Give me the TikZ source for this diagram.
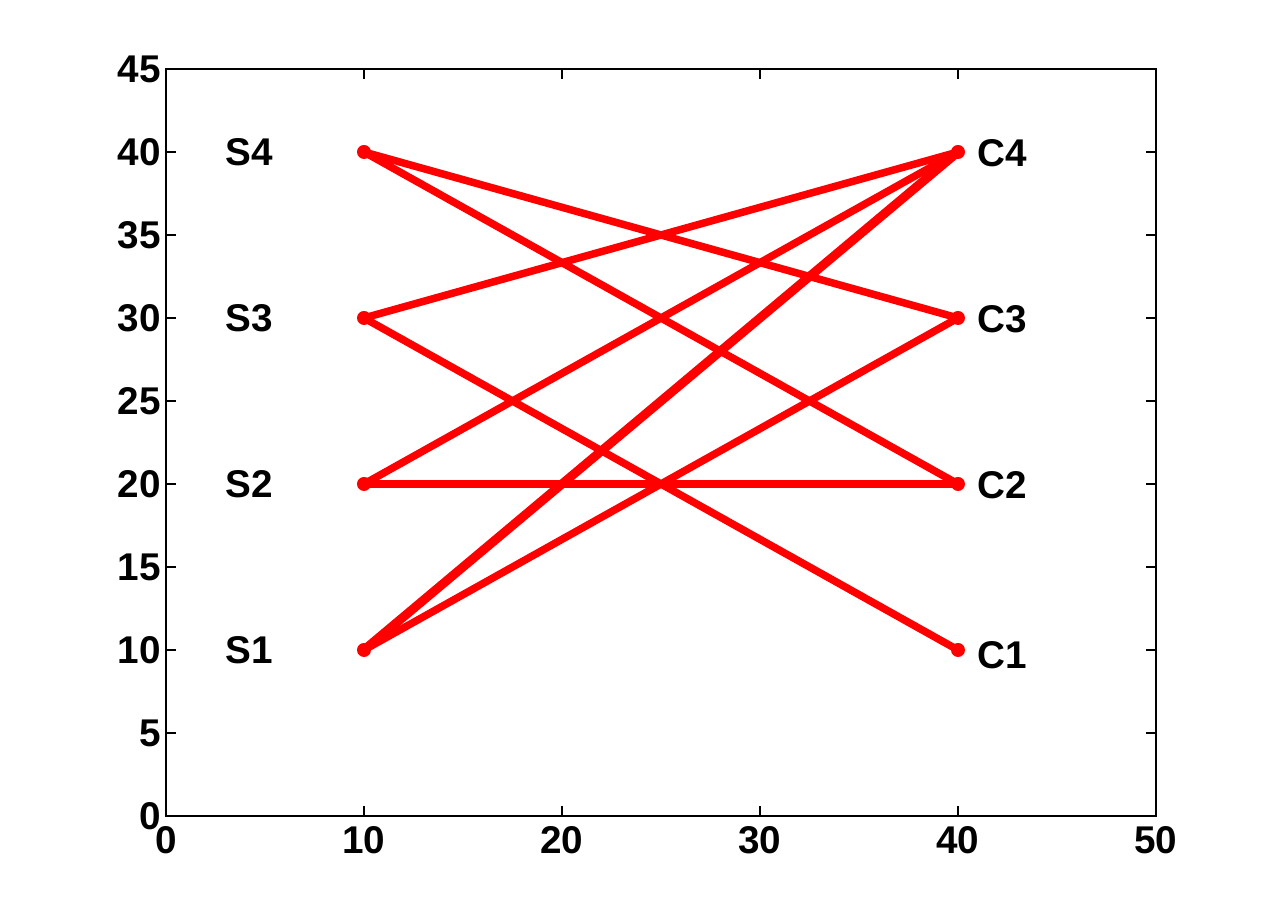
\documentclass[tikz,border=0pt]{standalone}
\usepackage{fontspec}
\setmainfont{Liberation Sans}
\begin{document}
\begin{tikzpicture}[
  dot/.style={circle,fill=red,inner sep=0pt,minimum size=0.28cm},
  edge/.style={draw=red,line width=0.15cm,line cap=round},
  lbl/.style={font=\fontsize{22}{24}\selectfont\bfseries,inner sep=0pt},
  ticklbl/.style={font=\fontsize{22}{24}\selectfont\bfseries,inner sep=0pt},
  axisline/.style={draw=black,line width=0.04cm}
]
\useasboundingbox[fill=white] (-3.32,-2.02) rectangle (22.22,16.32);
\begin{scope}[x=0.396cm,y=0.332cm]
  % axes box
  \draw[axisline] (0,0) rectangle (50,45);
  % ticks
  \foreach \x in {10,20,30,40} {
    \draw[axisline] (\x,0) -- ++(0,0.2cm);
    \draw[axisline] (\x,45) -- ++(0,-0.2cm);
  }
  \foreach \y in {5,10,...,40} {
    \draw[axisline] (0,\y) -- ++(0.2cm,0);
    \draw[axisline] (50,\y) -- ++(-0.2cm,0);
  }
  \foreach \x in {0,10,20,30,40,50}
    \node[ticklbl,anchor=north] (xt\x) at (\x,-0.6) {\x};
  \foreach \y in {0,5,10,...,45}
    \node[ticklbl,anchor=east] (yt\y) at (-0.25,\y) {\y};
  % points
  \node[dot] (S1) at (10,10) {};
  \node[dot] (S2) at (10,20) {};
  \node[dot] (S3) at (10,30) {};
  \node[dot] (S4) at (10,40) {};
  \node[dot] (C1) at (40,10) {};
  \node[dot] (C2) at (40,20) {};
  \node[dot] (C3) at (40,30) {};
  \node[dot] (C4) at (40,40) {};
  % edges
  \draw[edge] (S4.center) -- (C3.center);
  \draw[edge] (S4.center) -- (C2.center);
  \draw[edge] (S3.center) -- (C4.center);
  \draw[edge] (S3.center) -- (C1.center);
  \draw[edge] (S2.center) -- (C4.center);
  \draw[edge] (S2.center) -- (C2.center);
  \draw[edge,line width=0.18cm] (S1.center) -- (C4.center);
  \draw[edge] (S1.center) -- (C3.center);
  % labels
  \node[lbl,anchor=west] (LS1) at (3,10) {S1};
  \node[lbl,anchor=west] (LS2) at (3,20) {S2};
  \node[lbl,anchor=west] (LS3) at (3,30) {S3};
  \node[lbl,anchor=west] (LS4) at (3,40) {S4};
  \node[lbl,anchor=west] (LC1) at (40.95,9.7) {C1};
  \node[lbl,anchor=west] (LC2) at (40.95,19.9) {C2};
  \node[lbl,anchor=west] (LC3) at (40.95,29.9) {C3};
  \node[lbl,anchor=west] (LC4) at (40.95,39.9) {C4};
\end{scope}
\end{tikzpicture}
\end{document}
